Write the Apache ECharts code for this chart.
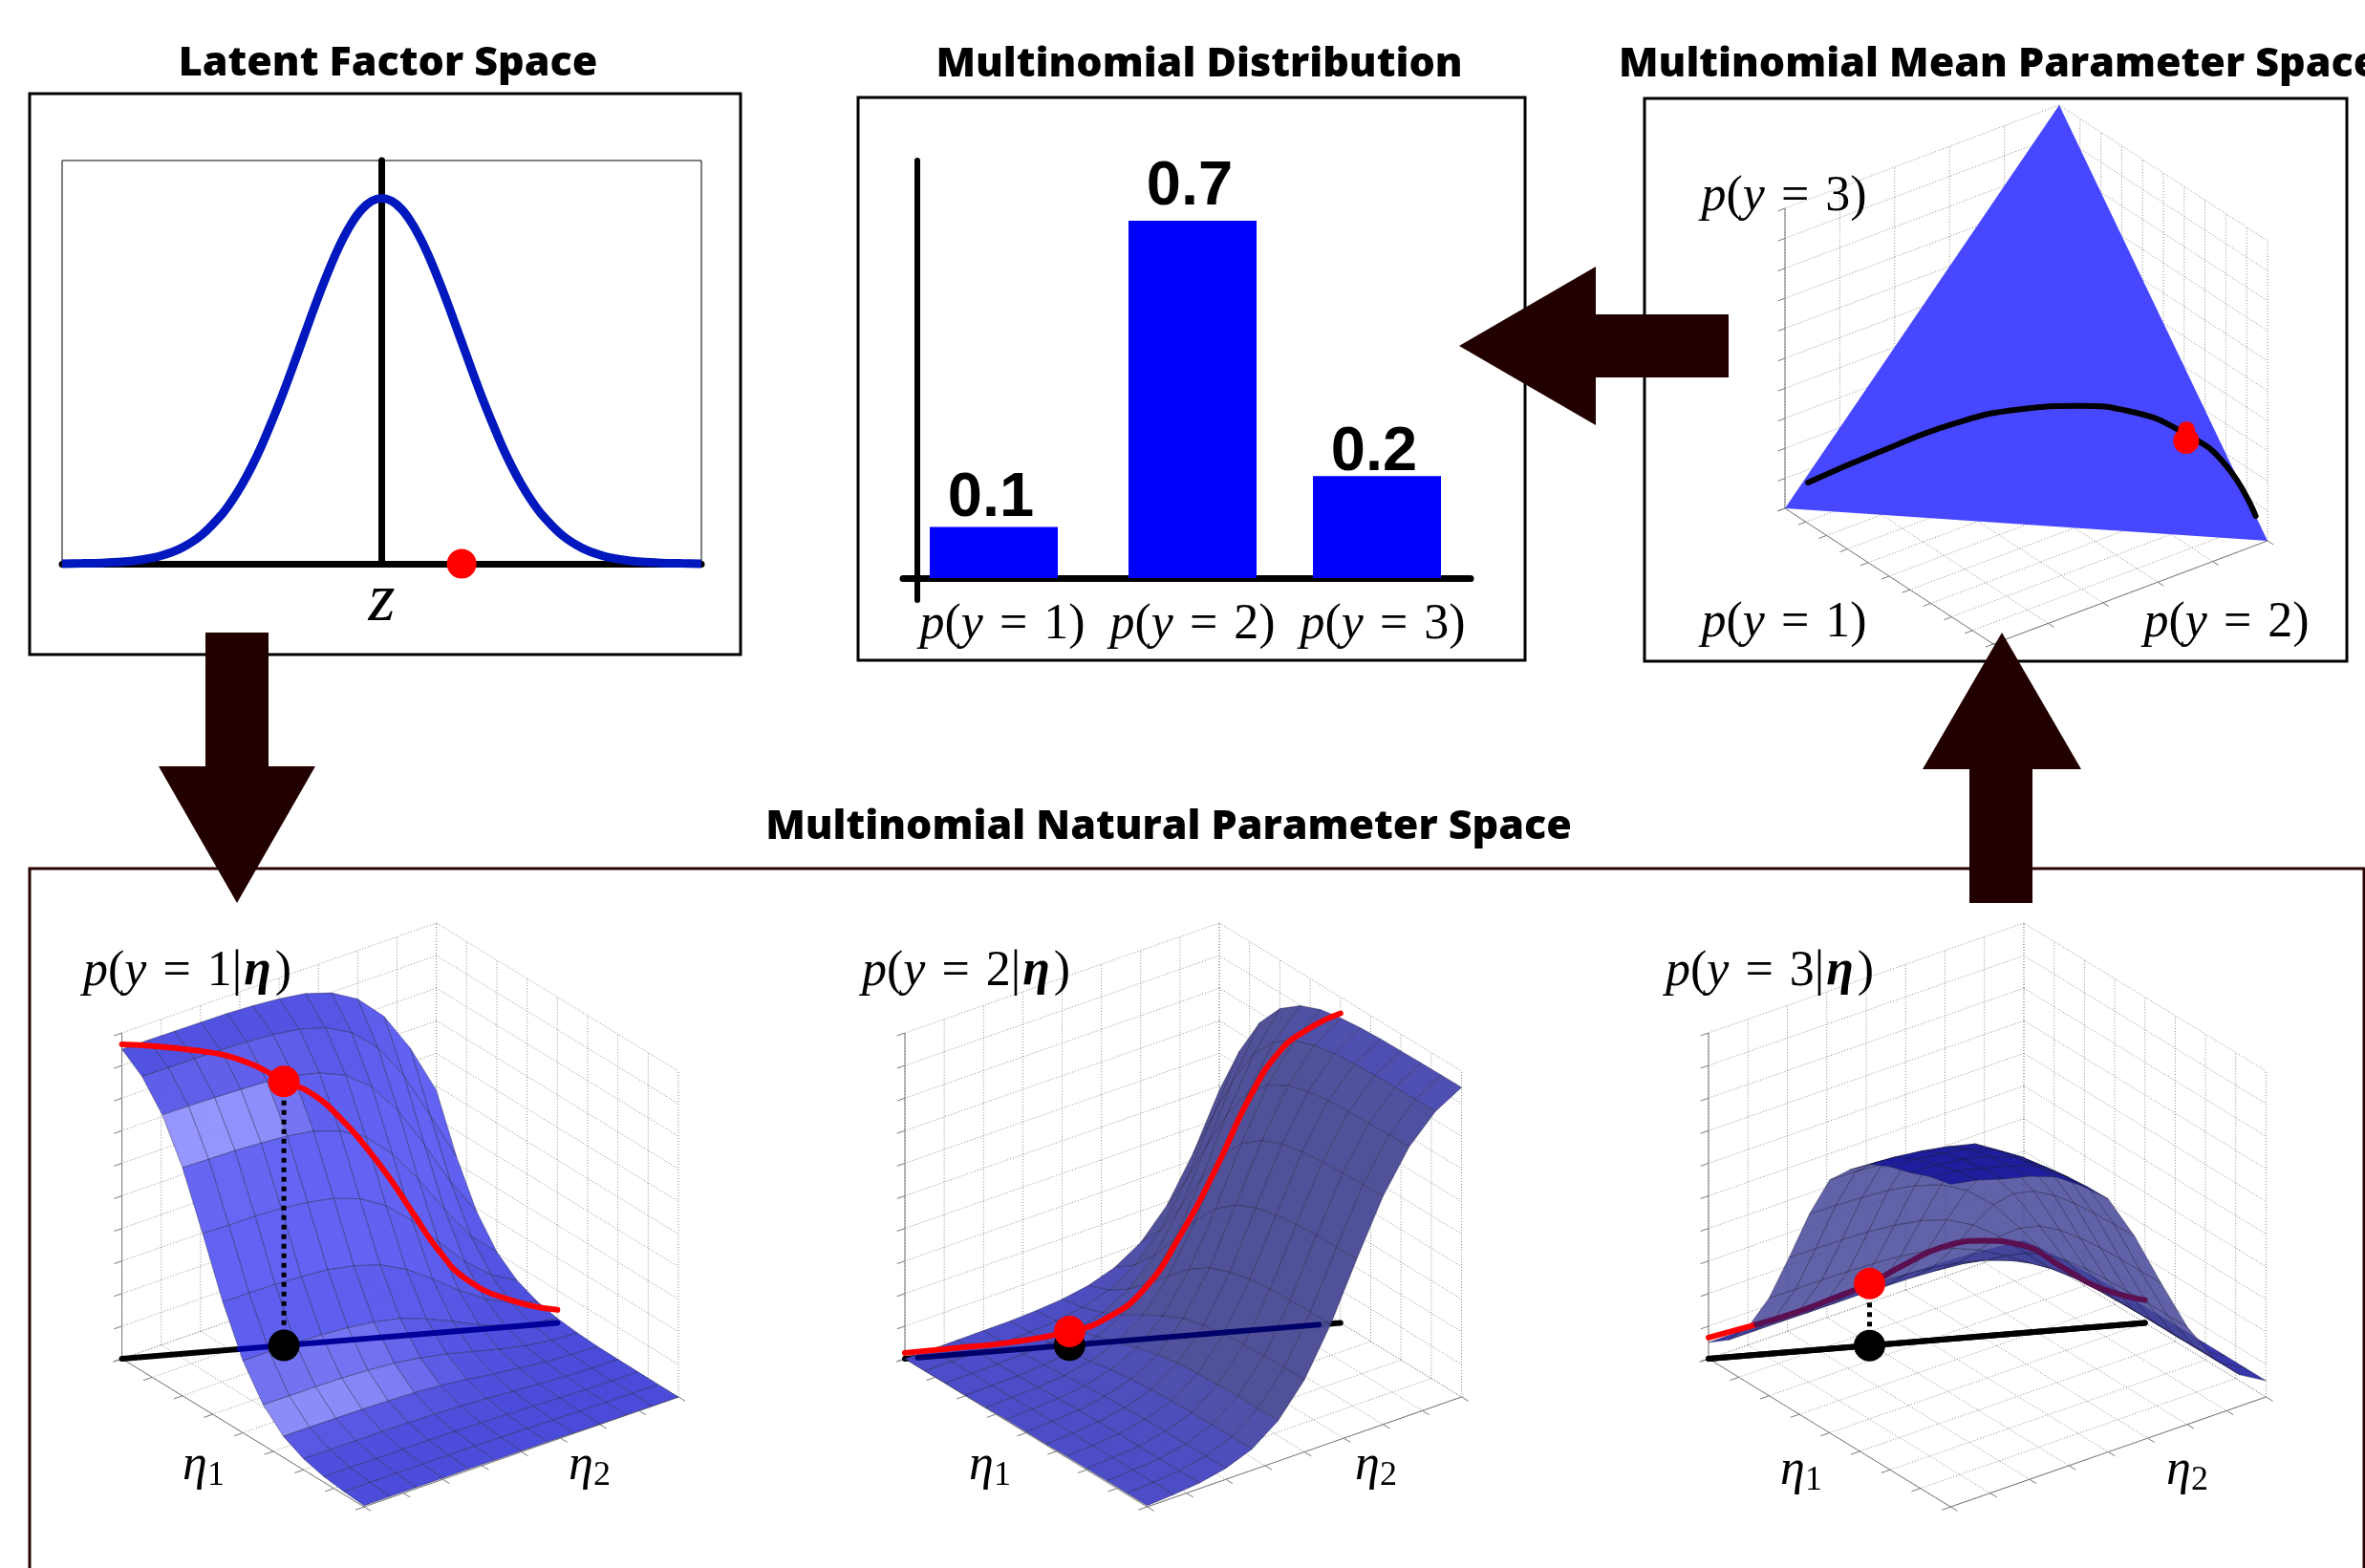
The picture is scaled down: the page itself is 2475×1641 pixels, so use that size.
<!DOCTYPE html>
<html>
<head>
<meta charset="utf-8">
<style>html,body{margin:0;padding:0;background:#fff}#main{width:2475px;height:1641px}</style>
<script src="https://cdn.jsdelivr.net/npm/echarts@6/dist/echarts.min.js"></script>
</head>
<body>
<div id="main"></div>
<script>
// latent factor panel
var latentZ = [-4,-3.75,-3.5,-3.25,-3,-2.75,-2.5,-2.25,-2,-1.875,-1.75,-1.625,-1.5,-1.375,-1.25,-1.125,-1,-0.875,-0.75,-0.625,-0.5,-0.375,-0.25,-0.125,0,0.125,0.25,0.375,0.5,0.625,0.75,0.875,1,1.125,1.25,1.375,1.5,1.625,1.75,1.875,2,2.25,2.5,2.75,3,3.25,3.5,3.75,4];
var latentDensity = [.0001,.0004,.0009,.002,.0044,.0091,.0175,.0317,.054,.0688,.0863,.1065,.1295,.1554,.1826,.2119,.242,.2721,.3011,.3282,.3521,.3719,.3867,.3958,.3989,.3958,.3867,.3719,.3521,.3282,.3011,.2721,.242,.2119,.1826,.1554,.1295,.1065,.0863,.0688,.054,.0317,.0175,.0091,.0044,.002,.0009,.0004,.0001];
var latentPoint = [1, 0];

// bar panel
var barValues = [0.1, 0.7, 0.2];
var barSlots = [0.4, 1.44, 2.405];
var barLabelSlots = [0.445, 1.44, 2.435];
var classNames = ['1', '2', '3'];

// simplex panel: [p1, p2, p3]
var simplexCorners = [[1,0,0],[0,1,0],[0,0,1]];
var simplexCurve = [[.924,.011,.065],[.742,.110,.148],[.551,.221,.228],[.397,.331,.272],[.265,.445,.290],[.162,.553,.285],[.065,.695,.240],[.012,.815,.173],[0,.943,.057]];
var simplexPoints = [[.060,.690,.250],[.072,.704,.224]];
var simplexTicksA = [0,.2,.4,.6,.8,1];
var simplexTicksB = [0,.1,.2,.3,.4,.5,.6,.7,.8,.9,1];
var heightTicks = [0,.1,.2,.3,.4,.5,.6,.7,.8,.9,1];
var etaTicks = [0,.125,.25,.375,.5,.625,.75,.875,1];

// surfaces, rows run along eta1, columns along eta2
var surface1 = [
[.487,.321,.190,.104,.055,.028,.014,.007,.003,.002,.001,.000,.000],
[.645,.475,.310,.182,.100,.052,.027,.013,.007,.003,.002,.001,.000],
[.770,.624,.452,.291,.169,.092,.048,.024,.012,.006,.003,.002,.001],
[.851,.739,.585,.412,.258,.147,.079,.041,.021,.010,.005,.003,.001],
[.898,.814,.685,.519,.350,.210,.117,.062,.031,.016,.008,.004,.002],
[.924,.857,.749,.597,.424,.267,.153,.083,.043,.022,.011,.006,.003],
[.936,.880,.784,.644,.474,.309,.182,.099,.052,.027,.013,.007,.003],
[.943,.892,.804,.671,.503,.334,.199,.111,.058,.030,.015,.008,.003],
[.947,.898,.814,.685,.519,.350,.210,.117,.061,.032,.016,.008,.004],
[.948,.901,.818,.691,.528,.357,.216,.121,.063,.033,.016,.009,.004],
[.949,.902,.821,.696,.533,.361,.219,.123,.064,.033,.016,.009,.004],
[.950,.903,.823,.698,.533,.363,.221,.123,.065,.034,.017,.009,.004],
[.950,.904,.824,.700,.536,.363,.221,.124,.065,.034,.017,.009,.004]];
var surface2 = [
[.487,.645,.770,.851,.898,.924,.936,.943,.947,.948,.949,.950,.950],
[.321,.475,.624,.739,.814,.857,.880,.892,.898,.901,.902,.903,.904],
[.190,.310,.452,.585,.685,.749,.784,.804,.814,.818,.821,.823,.824],
[.104,.182,.291,.412,.519,.597,.644,.671,.685,.691,.696,.698,.700],
[.055,.100,.169,.258,.350,.424,.474,.503,.519,.528,.533,.533,.536],
[.028,.052,.092,.147,.210,.267,.309,.334,.350,.357,.361,.363,.363],
[.014,.027,.048,.079,.117,.153,.182,.199,.210,.216,.219,.221,.221],
[.007,.013,.024,.041,.062,.083,.099,.111,.117,.121,.123,.123,.124],
[.003,.007,.012,.021,.031,.043,.052,.058,.061,.063,.064,.065,.065],
[.002,.003,.006,.010,.016,.022,.027,.030,.032,.033,.033,.034,.034],
[.001,.002,.003,.005,.008,.011,.013,.015,.016,.016,.016,.017,.017],
[.000,.001,.002,.003,.004,.006,.007,.008,.008,.009,.009,.009,.009],
[.000,.000,.001,.001,.002,.003,.003,.003,.004,.004,.004,.004,.004]];
var surface3 = [
[.026,.034,.041,.045,.047,.049,.049,.050,.050,.050,.050,.050,.050],
[.034,.050,.066,.078,.086,.091,.093,.095,.095,.095,.096,.096,.096],
[.041,.066,.096,.125,.146,.160,.167,.172,.174,.175,.175,.175,.176],
[.045,.078,.125,.177,.223,.256,.276,.288,.294,.297,.299,.299,.300],
[.047,.086,.146,.223,.302,.366,.410,.435,.449,.457,.460,.461,.463],
[.049,.091,.160,.256,.366,.466,.538,.583,.608,.622,.628,.632,.634],
[.049,.093,.167,.276,.410,.538,.637,.700,.738,.758,.768,.774,.776],
[.050,.095,.172,.288,.435,.583,.700,.760,.800,.820,.830,.840,.845],
[.050,.095,.174,.294,.449,.608,.738,.800,.850,.870,.885,.895,.900],
[.050,.095,.175,.297,.457,.622,.758,.820,.870,.900,.915,.925,.930],
[.050,.096,.175,.299,.460,.628,.768,.830,.885,.915,.935,.945,.950],
[.050,.096,.175,.299,.461,.632,.774,.840,.895,.925,.945,.965,.975],
[.050,.096,.176,.300,.463,.634,.776,.845,.900,.930,.950,.975,.990]];

// curves over the surfaces: position along the black line, then height
var curve1T = [0,.167,.279,.375,.435,.502,.558,.614,.67,.726,.793,.893,1];
var curve1H = [.965,.928,.883,.81,.767,.683,.592,.488,.37,.255,.155,.082,.04];
var curve2T = [0,.123,.234,.38,.457,.547,.637,.714,.792,.86,.926,1];
var curve2H = [.018,.02,.023,.042,.07,.15,.32,.505,.716,.848,.91,.95];
var curve3T = [0,.11,.2,.288,.369,.445,.534,.63,.713,.814,.89,1];
var curve3H = [.065,.093,.12,.155,.19,.237,.283,.293,.272,.189,.123,.07];
var markerT = [.372, .378, .369];
var markerH = [.81, .042, .19];

var SERIF = 'Liberation Serif';
var richMath = {
  i: {fontFamily: SERIF, fontStyle: 'italic', fontSize: 52, fill: '#000', color: '#000'},
  r: {fontFamily: SERIF, fontSize: 52, fill: '#000', color: '#000'},
  e: {fontFamily: SERIF, fontSize: 52, padding: [0, 17], fill: '#000', color: '#000'},
  b: {fontFamily: SERIF, fontSize: 52, fontStyle: 'italic', fontWeight: 'bold', padding: [0, 4, 0, 2], fill: '#000', color: '#000'},
  s: {fontFamily: SERIF, fontSize: 36, padding: [22, 0, 0, 0], verticalAlign: 'bottom', fill: '#000', color: '#000'}
};
function probLabel(n) { return '{i|p}{r|(}{i|y}{e|=}{r|' + n + ')}'; }
function condLabel(n) { return '{i|p}{r|(}{i|y}{e|=}{r|' + n + '|}{b|η}{r|)}'; }
function etaLabel(n) { return '{i|η}{s|' + n + '}'; }

// 3d box projections, in page pixels of each hidden grid
function project(box, a, b, c) {
  return [box.o[0] + a * box.a[0] + b * box.b[0] + c * box.c[0],
          box.o[1] + a * box.a[1] + b * box.b[1] + c * box.c[1]];
}
var simplexBox = {o: [2155, 424], a: [-287, 108], b: [218, 142], c: [0, -314], rect: [1800, 100, 640, 600], aTicks: simplexTicksA, bTicks: simplexTicksB};
var surfaceBoxes = [
  {o: [456.6, 1307], a: [-329, 115], b: [253.4, 155], c: [0, -341], rect: [100, 950, 640, 650], aTicks: etaTicks, bTicks: etaTicks, table: surface1, curveT: curve1T, curveH: curve1H},
  {o: [1276, 1307], a: [-329, 115], b: [253.6, 155], c: [0, -341], rect: [920, 950, 640, 650], aTicks: etaTicks, bTicks: etaTicks, table: surface2, curveT: curve2T, curveH: curve2H},
  {o: [2118, 1307], a: [-330, 115], b: [253.4, 155], c: [0, -341], rect: [1760, 950, 640, 650], aTicks: etaTicks, bTicks: etaTicks, table: surface3, curveT: curve3T, curveH: curve3H}
];
var allBoxes = [simplexBox].concat(surfaceBoxes);

var grids = [
  {left: 65, top: 168, width: 669, height: 422, show: true, borderColor: '#000', borderWidth: 1},
  {left: 945, top: 168, width: 594, height: 460}
];
var xAxes = [
  {gridIndex: 0, type: 'value', min: -4, max: 4, axisTick: {show: false}, axisLabel: {show: false}, splitLine: {show: false},
    axisLine: {lineStyle: {color: '#000', width: 7}}, name: 'z', nameLocation: 'middle', nameGap: 4,
    nameTextStyle: {fontFamily: SERIF, fontStyle: 'italic', fontSize: 72, color: '#000'}},
  {gridIndex: 1, type: 'value', min: -0.075, max: 2.895, axisTick: {show: false}, splitLine: {show: false},
    axisLine: {onZero: true, lineStyle: {color: '#000', width: 7}},
    axisLabel: {customValues: barLabelSlots, margin: 0, rich: richMath, showMinLabel: true, showMaxLabel: true,
      formatter: function (v) { return probLabel(classNames[barLabelSlots.indexOf(v)]); }}}
];
var yAxes = [
  {gridIndex: 0, type: 'value', min: 0, max: 0.44, axisTick: {show: false}, axisLabel: {show: false}, splitLine: {show: false},
    axisLine: {show: true, onZero: true, lineStyle: {color: '#000', width: 7}}},
  {gridIndex: 1, type: 'value', min: -0.043, max: 0.818, axisTick: {show: false}, axisLabel: {show: false}, splitLine: {show: false},
    axisLine: {show: true, onZero: true, lineStyle: {color: '#000', width: 6}}}
];
allBoxes.forEach(function (box, k) {
  box.grid = k + 2;
  grids.push({left: box.rect[0], top: box.rect[1], width: box.rect[2], height: box.rect[3]});
  xAxes.push({gridIndex: box.grid, type: 'value', show: false, min: box.rect[0], max: box.rect[0] + box.rect[2]});
  yAxes.push({gridIndex: box.grid, type: 'value', show: false, inverse: true, min: box.rect[1], max: box.rect[1] + box.rect[3]});
});

// dotted walls, floor, solid edges and ticks of a box
function boxSegments(box) {
  var segs = [];
  function add(p, q, solid) {
    var s = project(box, p[0], p[1], p[2]), t = project(box, q[0], q[1], q[2]);
    segs.push([s[0], s[1], t[0], t[1], solid]);
  }
  box.aTicks.forEach(function (v) {
    add([v,0,0],[v,0,1],0);
    add([v,0,0],[v,1,0],0);
    add([v,1,0],[v,1.028,0],1);
  });
  box.bTicks.forEach(function (v) {
    add([0,v,0],[0,v,1],0);
    add([0,v,0],[1,v,0],0);
    add([1,v,0],[1.028,v,0],1);
  });
  heightTicks.forEach(function (v) {
    add([0,0,v],[1,0,v],0);
    add([0,0,v],[0,1,v],0);
    add([1,0,v],[1.025,0,v],1);
  });
  add([1,0,0],[1,0,1],1);
  add([1,0,0],[1,1,0],1);
  add([1,1,0],[0,1,0],1);
  return segs;
}
function renderSegment(params, api) {
  var solid = api.value(4);
  var s = api.coord([api.value(0), api.value(1)]), t = api.coord([api.value(2), api.value(3)]);
  return {type: 'line', shape: {x1: s[0], y1: s[1], x2: t[0], y2: t[1]},
    style: {stroke: solid ? '#7a7a7a' : '#8c8c8c', lineWidth: 1, lineDash: solid ? null : [1, 2], fill: null}};
}
function cellList(table) {
  var cells = [], n = table.length - 1;
  for (var sum = 0; sum <= 2 * (n - 1); sum++) {
    for (var i = 0; i < n; i++) {
      var j = sum - i;
      if (j >= 0 && j < n) cells.push([i, j]);
    }
  }
  return cells;
}
function sq(v) { return v * v; }
function lerp(t, c0, c1) { return echarts.color.lerp(Math.max(0, Math.min(1, t)), [c0, c1]); }
function area(p) {
  var s = 0;
  for (var k = 0; k < p.length; k++) {
    var q = p[(k + 1) % p.length];
    s += p[k][0] * q[1] - q[0] * p[k][1];
  }
  return s;
}
var shaders = [
  function (dza, dzb, under, zMean) {
    var base = lerp(-dzb / 2, '#4444d8', '#5c5cf2');
    var centre = zMean > 0.5 ? 1.45 : 0.85;
    var spec = Math.exp(-sq((dzb + centre) / 0.33)) * Math.exp(-sq(dza / 0.16));
    return lerp(spec, base, '#9494ff');
  },
  function (dza) { return lerp(-dza / 1.1, '#4646c8', '#4a4a96'); },
  function (dza, dzb, under) { return under ? '#47479a' : '#14149c'; }
];
var surfaceAlpha = [0.96, 0.96, 0.85];
function renderCell(k) {
  var box = surfaceBoxes[k], t = box.table, n = t.length - 1;
  return function (params, api) {
    var i = api.value(0), j = api.value(1);
    var corners = [[i,j],[i+1,j],[i+1,j+1],[i,j+1]];
    var pts = corners.map(function (c) { return api.coord(project(box, c[0] / n, c[1] / n, t[c[0]][c[1]])); });
    var flat = corners.map(function (c) { return project(box, c[0] / n, c[1] / n, 0); });
    var under = area(pts) * area(flat) < 0;
    var dza = (t[i+1][j] + t[i+1][j+1] - t[i][j] - t[i][j+1]) / 2 * n;
    var dzb = (t[i][j+1] + t[i+1][j+1] - t[i][j] - t[i+1][j]) / 2 * n;
    var zMean = (t[i][j] + t[i+1][j] + t[i][j+1] + t[i+1][j+1]) / 4;
    var fill = echarts.color.modifyAlpha(shaders[k](dza, dzb, under, zMean), surfaceAlpha[k]);
    return {type: 'polygon', shape: {points: pts}, style: {fill: fill, stroke: 'rgba(25,25,50,0.42)', lineWidth: 0.9}};
  };
}
function pathSeries(box, pts, color, width, z, extra) {
  var s = {type: 'line', xAxisIndex: box.grid, yAxisIndex: box.grid, data: pts, showSymbol: false, symbol: 'none', clip: false, silent: true, z: z,
    lineStyle: {color: color, width: width, cap: 'round', join: 'round'}};
  for (var key in extra) s[key] = extra[key];
  return s;
}
function dotSeries(box, pt, color, size, z) {
  return {type: 'scatter', xAxisIndex: box.grid, yAxisIndex: box.grid, data: [pt], symbolSize: size, clip: false, silent: true, z: z,
    itemStyle: {color: color, opacity: 1}};
}
// point on the black line through the floor: from a=1,b=0 to a=0,b=.5
function linePoint(box, t, h) { return project(box, 1 - t, 0.5 * t, h); }

var barLabelShift = [0, -5, 5];
var series = [
  {type: 'line', xAxisIndex: 0, yAxisIndex: 0, data: latentZ.map(function (z, i) { return [z, latentDensity[i]]; }), smooth: 0.3, showSymbol: false, symbol: 'none', clip: false, z: 4,
    lineStyle: {color: '#0018bd', width: 9}},
  {type: 'scatter', xAxisIndex: 0, yAxisIndex: 0, data: [latentPoint], symbolSize: 31, itemStyle: {color: '#ff0000', opacity: 1}, z: 5, clip: false},
  {type: 'bar', xAxisIndex: 1, yAxisIndex: 1, barWidth: 134, itemStyle: {color: '#0000ff'}, z: 1,
    data: barValues.map(function (v, i) {
      return {value: [barSlots[i], v], label: {offset: [-3, barLabelShift[i]]}};
    }),
    label: {show: true, position: 'top', distance: -3, fontFamily: 'Liberation Sans', fontWeight: 'bold', fontSize: 65, color: '#000',
      formatter: function (p) { return p.value[1].toFixed(1); }}}
];

allBoxes.forEach(function (box) {
  series.push({type: 'custom', xAxisIndex: box.grid, yAxisIndex: box.grid, data: boxSegments(box), renderItem: renderSegment, clip: false, silent: true, z: 1});
});

// simplex
series.push({type: 'custom', xAxisIndex: simplexBox.grid, yAxisIndex: simplexBox.grid, silent: true, clip: false, z: 2,
  data: [simplexCorners[0].concat(simplexCorners[1], simplexCorners[2])],
  renderItem: function (params, api) {
    var pts = [0, 3, 6].map(function (d) {
      return api.coord(project(simplexBox, api.value(d), api.value(d + 1), api.value(d + 2)));
    });
    return {type: 'polygon', shape: {points: pts}, style: {fill: 'rgba(64,64,255,0.96)'}};
  }});
series.push(pathSeries(simplexBox, simplexCurve.map(function (p) {
  return project(simplexBox, p[0], p[1], p[2]);
}), '#000', 6, 3, {smooth: 0.5}));
simplexPoints.forEach(function (p, i) {
  series.push(dotSeries(simplexBox, project(simplexBox, p[0], p[1], p[2]), '#ff0000', i === 0 ? 18 : 27, 4));
});

// surfaces
surfaceBoxes.forEach(function (box, k) {
  series.push(pathSeries(box, [linePoint(box, 0, 0), linePoint(box, 1, 0)], '#000', 6, 2));
  series.push({type: 'custom', xAxisIndex: box.grid, yAxisIndex: box.grid, data: cellList(box.table), renderItem: renderCell(k), clip: false, silent: true, z: 3});
  var curve = box.curveT.map(function (t, i) { return linePoint(box, t, box.curveH[i]); });
  if (k === 0) series.push(pathSeries(box, [linePoint(box, 0.27, 0), linePoint(box, 1, 0)], '#00009a', 6, 4));
  if (k === 1) series.push(pathSeries(box, [linePoint(box, 0.03, 0), linePoint(box, 0.95, 0)], '#00006a', 6, 4));
  if (k === 2) {
    series.push(pathSeries(box, [linePoint(box, 0, 0), linePoint(box, 1, 0)], '#000', 6, 4));
    series.push(pathSeries(box, curve.slice(0, 2), '#ff0000', 6, 5));
    series.push(pathSeries(box, curve.slice(1), '#5a1050', 6, 5, {smooth: 0.5}));
  } else {
    series.push(pathSeries(box, curve, '#ff0000', 6, 5, {smooth: 0.5}));
  }
  var blackDot = linePoint(box, markerT[k], 0), redDot = linePoint(box, markerT[k], markerH[k]);
  series.push(pathSeries(box, [redDot, blackDot], '#000', 5, 6, {lineStyle: {color: '#000', width: 5, type: [5, 5]}}));
  series.push(dotSeries(box, blackDot, '#000', 33, 7));
  series.push(dotSeries(box, redDot, '#ff0000', 33, 8));
});

function headline(text, x, y, align) {
  return {text: text, left: x, top: y, textAlign: align, textVerticalAlign: 'middle', padding: 0,
    textStyle: {fontFamily: 'Open Sans', fontWeight: 800, fontSize: 43, color: '#000'}};
}
function frame(x, y, w, h, color) {
  return {type: 'rect', silent: true, z: 0, shape: {x: x, y: y, width: w, height: h}, style: {fill: 'none', stroke: color, lineWidth: 3}};
}
function arrow(points) {
  return {type: 'polygon', silent: true, z: 60, shape: {points: points}, style: {fill: '#220000'}};
}
function mathText(text, x, y) {
  return {type: 'text', silent: true, z: 70, style: {text: text, x: x, y: y, align: 'center', verticalAlign: 'middle', rich: richMath}};
}

var option = {
  animation: false,
  backgroundColor: '#fff',
  title: [
    headline('Latent Factor Space', 406, 67, 'center'),
    headline('Multinomial Distribution', 1255, 68, 'center'),
    headline('Multinomial Mean Parameter Space', 1694, 68, 'left'),
    headline('Multinomial Natural Parameter Space', 1223, 866, 'center')
  ],
  grid: grids,
  xAxis: xAxes,
  yAxis: yAxes,
  series: series,
  graphic: [
    frame(31, 98, 744, 587, '#000'),
    frame(898, 102, 698, 589, '#000'),
    frame(1721, 103, 735, 589, '#000'),
    frame(31, 909, 2443, 900, '#2a0000'),
    arrow([[215,662],[281,662],[281,802],[330,802],[248,945],[166,802],[215,802]]),
    arrow([[1809,329],[1809,395],[1670,395],[1670,445],[1527,362],[1670,279],[1670,329]]),
    arrow([[2061,945],[2127,945],[2127,805],[2178,805],[2095,662],[2012,805],[2061,805]]),
    mathText(probLabel('3'), 1867, 206),
    mathText(probLabel('1'), 1867, 652),
    mathText(probLabel('2'), 2330, 652),
    mathText(condLabel('1'), 196, 1017),
    mathText(condLabel('2'), 1011, 1017),
    mathText(condLabel('3'), 1852, 1017),
    mathText(etaLabel('1'), 213, 1534),
    mathText(etaLabel('2'), 617, 1534),
    mathText(etaLabel('1'), 1036, 1534),
    mathText(etaLabel('2'), 1440, 1534),
    mathText(etaLabel('1'), 1885, 1539),
    mathText(etaLabel('2'), 2289, 1539)
  ]
};
var chart = echarts.init(document.getElementById('main'));
chart.setOption(option);
</script>
</body>
</html>
